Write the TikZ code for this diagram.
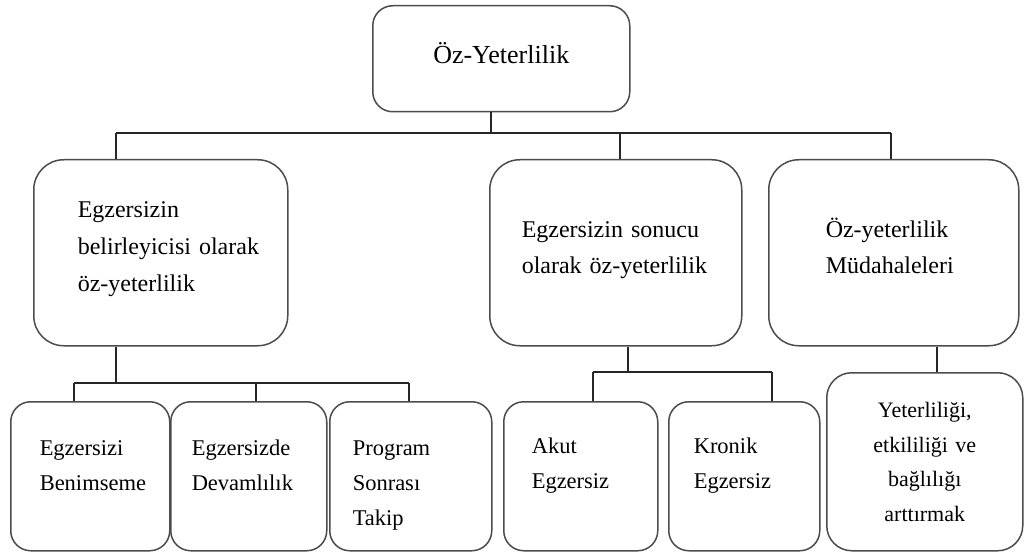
\documentclass[tikz,border=0pt]{standalone}
\usepackage{fontspec}
\setmainfont{Liberation Serif}
\usetikzlibrary{shapes}
\tikzstyle{box}=[draw=black!70, line width=1.5pt, rounded corners=20pt, anchor=north west, inner ysep=0pt]
\tikzstyle{bigbox}=[box, rounded corners=30pt, align=left, font=\fontsize{24}{37}\selectfont]
\tikzstyle{smallbox}=[box, align=left, font=\fontsize{22.5}{35}\selectfont]
\tikzstyle{link}=[draw=black!85, line width=1.3pt]

\begin{document}
\hyphenpenalty=10000 \exhyphenpenalty=10000
\begin{tikzpicture}[x=1pt, y=-1pt]

    \useasboundingbox[fill=white] (0,0) rectangle (1030,556);

    % root
    \node[box, align=center, inner xsep=10pt, text width=237pt, text height=58pt, text depth=48pt,
          font=\fontsize{26}{30}\selectfont] (top) at (372,5) {Öz-Yeterlilik};

    % second level
    \node[bigbox, inner xsep=44pt, text width=166pt, text height=58pt, text depth=128pt] (A) at (33,159)
        {Egzersizin\\belirleyicisi~olarak\\öz-yeterlilik};
    \node[bigbox, inner xsep=32pt, text width=188pt, text height=78pt, text depth=108pt,
          font=\fontsize{24}{36}\selectfont] (B) at (489,159)
        {Egzersizin~sonucu\\olarak~öz-yeterlilik};
    \node[bigbox, inner xsep=57pt, text width=136pt, text height=78pt, text depth=108pt,
          font=\fontsize{24}{36}\selectfont] (C) at (768,159)
        {Öz-yeterlilik\\Müdahaleleri};

    % third level
    \foreach \name/\x/\m/\w/\txt in {d1/10/29/159/{Egzersizi\\Benimseme}, d2/170/21/156/{Egzersizde\\Devamlılık},
                                     d3/329/23/162/{Program\\Sonrası\\Takip}}
        \node[smallbox, inner xsep=\m pt, text width=\w pt-2*\m pt, text height=54pt, text depth=95pt] (\name) at (\x,401) {\txt};

    \foreach \name/\x/\m/\w/\txt in {e1/503/28/154/{Akut\\Egzersiz}, e2/668/25/151/{Kronik\\Egzersiz}}
        \node[smallbox, inner xsep=\m pt, text width=\w pt-2*\m pt, text height=52pt, text depth=97pt] (\name) at (\x,401) {\txt};

    \node[box, rounded corners=25pt, align=center, inner xsep=10pt, text width=176pt, text height=45pt, text depth=133pt,
          font=\fontsize{22}{34.5}\selectfont] (F) at (826,372)
        {Yeterliliği,\\etkililiği ve\\bağlılığı\\arttırmak};

    % connectors
    \coordinate (j1) at (491,133);
    \coordinate (j2) at (116,383);
    \coordinate (j3) at (628,372);

    \draw[link] (top.south -| j1) -- (j1);
    \draw[link] (j1 -| 116,0) -- (j1 -| 891,0);
    \foreach \dest/\x in {A/116, B/620, C/891}
        \draw[link] (j1 -| \x,0) -- (\dest.north -| \x,0);

    \draw[link] (A.south -| j2) -- (j2);
    \draw[link] (j2 -| 74,0) -- (j2 -| 409,0);
    \foreach \dest/\x in {d1/74, d2/256, d3/409}
        \draw[link] (j2 -| \x,0) -- (\dest.north -| \x,0);

    \draw[link] (B.south -| j3) -- (j3);
    \draw[link] (j3 -| 593,0) -- (j3 -| 772,0);
    \foreach \dest/\x in {e1/593, e2/772}
        \draw[link] (j3 -| \x,0) -- (\dest.north -| \x,0);

    \draw[link] (C.south -| 937,0) -- (F.north -| 937,0);

\end{tikzpicture}
\end{document}
